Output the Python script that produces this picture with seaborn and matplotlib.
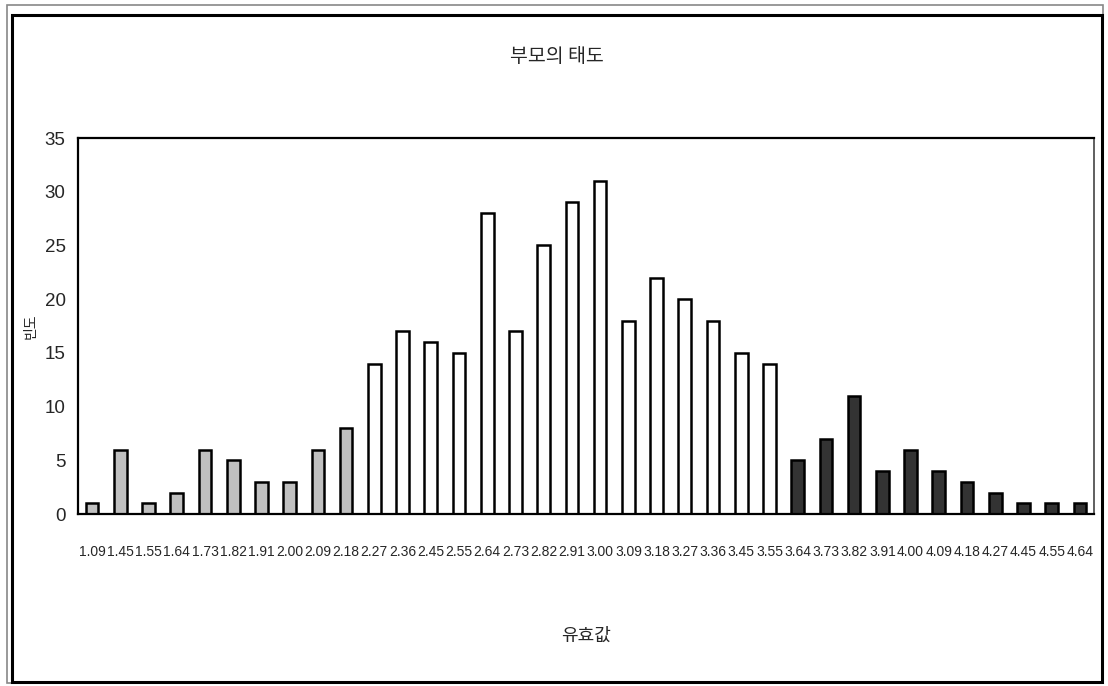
import pandas as pd
import numpy as np
import matplotlib
matplotlib.use('Agg')
import matplotlib.pyplot as plt
from matplotlib.patches import Rectangle
import seaborn as sns

# 유효값 (category labels) and 빈도 counts, grouped by bar shade
low_labels = ['1.09', '1.45', '1.55', '1.64', '1.73', '1.82', '1.91', '2.00', '2.09', '2.18']
low_counts = [1, 6, 1, 2, 6, 5, 3, 3, 6, 8]
mid_labels = ['2.27', '2.36', '2.45', '2.55', '2.64', '2.73', '2.82', '2.91', '3.00',
              '3.09', '3.18', '3.27', '3.36', '3.45', '3.55']
mid_counts = [14, 17, 16, 15, 28, 17, 25, 29, 31, 18, 22, 20, 18, 15, 14]
high_labels = ['3.64', '3.73', '3.82', '3.91', '4.00', '4.09', '4.18', '4.27', '4.45', '4.55', '4.64']
high_counts = [5, 7, 11, 4, 6, 4, 3, 2, 1, 1, 1]

df = pd.DataFrame({
    'value': low_labels + mid_labels + high_labels,
    'count': low_counts + mid_counts + high_counts,
    'group': ['low'] * len(low_labels) + ['mid'] * len(mid_labels) + ['high'] * len(high_labels),
})
group_colors = {'low': '#c0c0c0', 'mid': '#ffffff', 'high': '#333333'}

sns.set_style('white')
plt.rcParams['font.family'] = ['Noto Sans CJK KR', 'DejaVu Sans']

fig = plt.figure(figsize=(11.08, 6.86), dpi=100)
ax = fig.add_axes([0.0704, 0.2507, 0.917, 0.5481])

sns.barplot(data=df, x='value', y='count', hue='group', palette=group_colors,
            dodge=False, width=0.45, edgecolor='black', linewidth=1.8,
            legend=False, ax=ax)

ax.set_xlim(-0.5, len(df) - 0.5)
ax.set_ylim(0, 35)
ax.set_yticks(range(0, 36, 5))
ax.tick_params(axis='y', direction='in', length=4, width=1.2, pad=9, labelsize=13.5)
ax.tick_params(axis='x', length=0, pad=22, labelsize=10)
for lab in ax.get_xticklabels() + ax.get_yticklabels():
    lab.set_family('Liberation Sans')
for side in ['left', 'bottom', 'top']:
    ax.spines[side].set_color('black')
    ax.spines[side].set_linewidth(1.6)
ax.spines['right'].set_color('#444444')
ax.spines['right'].set_linewidth(1.2)

ax.set_xlabel('유효값', fontsize=13)
ax.xaxis.set_label_coords(0.5, -0.30)
ax.set_ylabel('빈도', fontsize=10)
ax.yaxis.set_label_coords(-0.04, 0.5)
fig.text(0.503, 0.918, '부모의 태도', ha='center', va='center', fontsize=14)

# double frame around the whole chart
fig.patches.append(Rectangle((0.0063, 0.004), 0.989, 0.989, transform=fig.transFigure,
                             fill=False, edgecolor='#888888', linewidth=1.2))
fig.patches.append(Rectangle((0.011, 0.006), 0.984, 0.972, transform=fig.transFigure,
                             fill=False, edgecolor='black', linewidth=2.2))

fig.savefig('out.png', dpi=100)
